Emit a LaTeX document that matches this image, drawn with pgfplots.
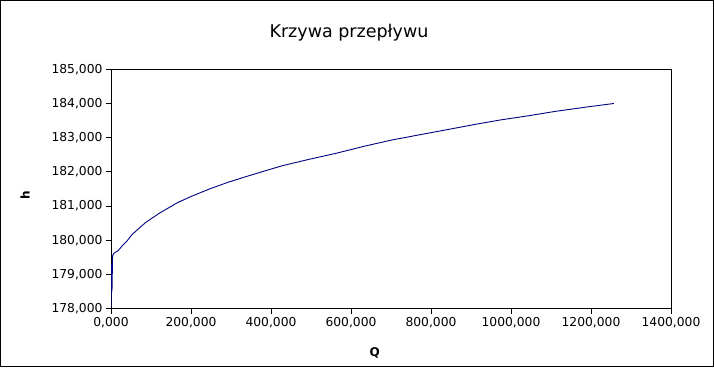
\documentclass[border=0pt]{standalone}
\usepackage{pgfplots}
\pgfplotsset{compat=1.18}
\usepackage{fontspec}
\setmainfont{DejaVu Sans}
\definecolor{curve}{RGB}{0,0,128}
\begin{document}
\begin{tikzpicture}[x=1pt,y=1pt]
\useasboundingbox (0,0) rectangle (714,367);
\draw[black, line width=1pt] (0.5,0.5) rectangle (713.5,366.5);
\begin{axis}[
  at={(111pt,58.3pt)}, anchor=south west,
  scale only axis, width=560pt, height=239.4pt,
  xmin=0, xmax=1400, ymin=178, ymax=185,
  xtick={0,200,...,1400}, ytick={178,179,...,185},
  scaled x ticks=false, scaled y ticks=false,
  tick align=outside, major tick length=5pt,
  xtick pos=bottom, ytick pos=left,
  tick style={black, line width=0.8pt},
  axis line style={black, line width=0.8pt},
  ticklabel style={font=\fontsize{12.3}{14}\selectfont,
    /pgf/number format/fixed, /pgf/number format/fixed zerofill,
    /pgf/number format/precision=3, /pgf/number format/use comma,
    /pgf/number format/1000 sep={}, /pgf/number format/assume math mode=true},
  title={Krzywa przepływu},
  title style={font=\fontsize{17.5}{20}\selectfont, at={(rel axis cs:0.425,1.128)}, anchor=center, yshift=0pt},
  xlabel={\textbf{Q}},
  xlabel style={font=\fontsize{12}{14}\selectfont, at={(rel axis cs:0.471,-0.185)}, anchor=center},
  ylabel={\textbf{h}},
  ylabel style={font=\fontsize{12}{14}\selectfont, at={(rel axis cs:-0.1536,0.475)}, anchor=center, rotate=0},
]
\addplot[color=curve, line width=0.9pt] coordinates {
(0,178.0) (1.5,179.3) (2.5,178.5) (4,179.55) (8,179.63) (18,179.70)
(29.6,179.86) (40,179.98) (52,180.16) (68,180.33) (86.5,180.52) (120.6,180.79)
(166,181.1) (200,181.28) (246,181.5) (291,181.69) (337,181.86) (382,182.02)
(428,182.18) (496,182.37) (565,182.55) (633,182.75) (701,182.93)
(769,183.08) (838,183.23) (906,183.38) (974,183.52)
(1043,183.64) (1111,183.77) (1191,183.9) (1257,184.0)
};
\end{axis}
\end{tikzpicture}
\end{document}
